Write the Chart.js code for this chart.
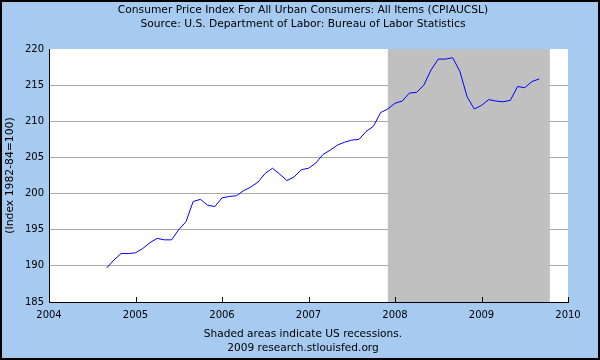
<!DOCTYPE html>
<html>
<head>
<meta charset="utf-8">
<script src="https://cdn.jsdelivr.net/npm/chart.js@4"></script>
<style>
  html, body { margin: 0; padding: 0; background: #fff; }
  #chart { display: block; }
</style>
</head>
<body>
<canvas id="chart" width="600" height="360"></canvas>
<script>
// CPI-U, seasonally adjusted
const months = [
    '2004-09', '2004-10', '2004-11', '2004-12',
    '2005-01', '2005-02', '2005-03', '2005-04', '2005-05', '2005-06',
    '2005-07', '2005-08', '2005-09', '2005-10', '2005-11', '2005-12',
    '2006-01', '2006-02', '2006-03', '2006-04', '2006-05', '2006-06',
    '2006-07', '2006-08', '2006-09', '2006-10', '2006-11', '2006-12',
    '2007-01', '2007-02', '2007-03', '2007-04', '2007-05', '2007-06',
    '2007-07', '2007-08', '2007-09', '2007-10', '2007-11', '2007-12',
    '2008-01', '2008-02', '2008-03', '2008-04', '2008-05', '2008-06',
    '2008-07', '2008-08', '2008-09', '2008-10', '2008-11', '2008-12',
    '2009-01', '2009-02', '2009-03', '2009-04', '2009-05', '2009-06',
    '2009-07', '2009-08', '2009-09',
];
const cpi = [
    189.7, 190.8, 191.7, 191.7,
    191.8, 192.4, 193.2, 193.8, 193.6, 193.6,
    195.0, 196.1, 198.9, 199.2, 198.4, 198.2,
    199.4, 199.6, 199.7, 200.4, 200.9, 201.6,
    202.8, 203.5, 202.7, 201.8, 202.3, 203.3,
    203.5, 204.2, 205.4, 206.0, 206.7, 207.1,
    207.4, 207.5, 208.6, 209.3, 211.2, 211.7,
    212.5, 212.8, 213.9, 214.0, 215.0, 217.1,
    218.6, 218.6, 218.8, 216.9, 213.4, 211.7,
    212.2, 213.0, 212.8, 212.7, 212.9, 214.8,
    214.65, 215.5, 215.85,
];
// recession band, in decimal years (start Dec 2007)
const recessions = [[2007.917, 2009.79]];
const yearTicks = [2004, 2005, 2006, 2007, 2008, 2009, 2010];
const titleLines = [
    'Consumer Price Index For All Urban Consumers: All Items (CPIAUCSL)',
    'Source: U.S. Department of Labor: Bureau of Labor Statistics',
];
const footLines = [
    'Shaded areas indicate US recessions.',
    '2009 research.stlouisfed.org',
];
const yLabel = '(Index 1982-84=100)';

const BG = '#a6caf0';
const SHADE = '#c0c0c0';
const GRID = '#aaaaaa';
const LINE = '#0000ff';

function toYear(s) {
    const [y, m] = s.split('-').map(Number);
    return y + (m - 1) / 12;
}

const fredPlugin = {
    id: 'fred',
    beforeDraw(chart) {
        const { ctx, chartArea: a, width, height } = chart;
        ctx.save();
        ctx.fillStyle = BG;
        ctx.fillRect(0, 0, width, height);
        ctx.fillStyle = '#fff';
        ctx.fillRect(a.left, a.top, a.right - a.left, a.bottom - a.top);
        ctx.restore();
    },
    beforeDatasetsDraw(chart) {
        const { ctx, chartArea: a, scales: { x } } = chart;
        ctx.save();
        ctx.fillStyle = SHADE;
        recessions.forEach(([s, e]) => {
            const x0 = x.getPixelForValue(s);
            const x1 = x.getPixelForValue(e);
            ctx.fillRect(x0, a.top, x1 - x0, a.bottom - a.top);
        });
        ctx.restore();
    },
    afterDraw(chart) {
        const { ctx, chartArea: a, scales: { x }, width, height } = chart;
        ctx.save();
        ctx.strokeStyle = '#000';
        ctx.lineWidth = 1;
        ctx.beginPath();
        x.ticks.forEach((t) => {
            const px = Math.round(x.getPixelForValue(t.value)) + 0.5;
            ctx.moveTo(px, a.bottom);
            ctx.lineTo(px, a.bottom - 5);
        });
        ctx.stroke();
        ctx.lineWidth = 2;
        ctx.strokeRect(1, 1, width - 2, height - 2);
        ctx.restore();
    },
};

Chart.defaults.font.family = "'DejaVu Sans', Verdana, sans-serif";
Chart.defaults.font.size = 10;
Chart.defaults.color = '#000';

new Chart(document.getElementById('chart'), {
    type: 'line',
    data: {
        datasets: [{
            data: months.map((m, i) => ({ x: toYear(m), y: cpi[i] })),
            borderColor: LINE,
            borderWidth: 1,
            pointRadius: 0,
            tension: 0,
            fill: false,
        }],
    },
    options: {
        responsive: false,
        animation: false,
        events: [],
        layout: { padding: { left: 6, right: 0, top: 0, bottom: 0 } },
        plugins: {
            legend: { display: false },
            tooltip: { enabled: false },
            title: {
                display: true,
                text: titleLines,
                font: { size: 10.7, weight: 'normal', lineHeight: '14px' },
                color: '#000',
                padding: { top: 3, bottom: 18 },
            },
            subtitle: {
                display: true,
                position: 'bottom',
                text: footLines,
                font: { size: 10.6, weight: 'normal', lineHeight: '14px' },
                color: '#000',
                padding: { top: 5, bottom: 5 },
            },
        },
        scales: {
            x: {
                type: 'linear',
                min: yearTicks[0],
                max: yearTicks[yearTicks.length - 1],
                afterBuildTicks: (s) => { s.ticks = yearTicks.map((v) => ({ value: v })); },
                ticks: { padding: -1, callback: (v) => String(v), maxRotation: 0 },
                grid: { display: false },
                border: { display: true, color: '#000', width: 1 },
                afterFit: (s) => { s.height = 20; },
            },
            y: {
                min: 185,
                max: 220,
                ticks: { stepSize: 5, padding: 5 },
                grid: {
                    drawTicks: false,
                    color: (c) => (c.tick.value === 185 || c.tick.value === 220 ? 'rgba(0,0,0,0)' : GRID),
                },
                border: { display: true, color: '#000', width: 1 },
                title: {
                    display: true,
                    text: yLabel,
                    font: { size: 10.8, lineHeight: '8px' },
                    padding: { top: 0, bottom: 0 },
                },
                afterFit: (s) => { s.width = 43; },
            },
            // empty right-hand axis, only keeps the plot clear of the right edge
            yRight: {
                position: 'right',
                min: 185,
                max: 220,
                ticks: { display: false },
                grid: { display: false },
                border: { display: false },
                afterFit: (s) => { s.width = 32; },
            },
        },
    },
    plugins: [fredPlugin],
});
</script>
</body>
</html>
